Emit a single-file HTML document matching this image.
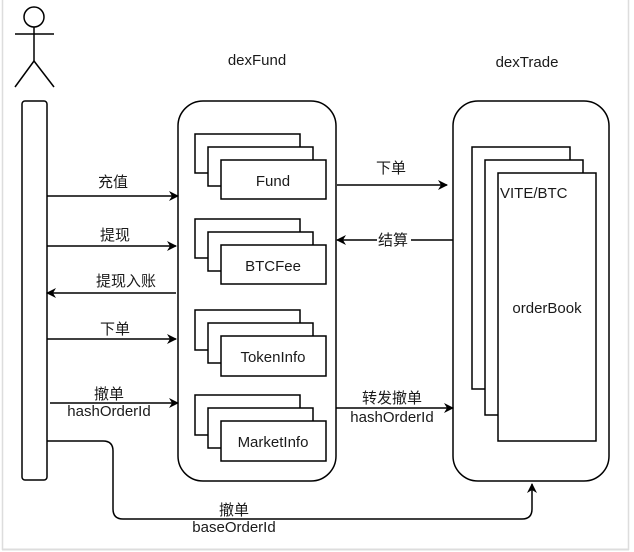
<!DOCTYPE html>
<html><head><meta charset="utf-8"><style>
html,body{margin:0;padding:0;background:#fff;}
svg{display:block;}
text{font-family:"Liberation Sans","Noto Sans CJK SC",sans-serif;font-size:15px;fill:#1a1a1a;}
</style></head><body>
<svg width="634" height="552" viewBox="0 0 634 552" xmlns="http://www.w3.org/2000/svg">
<defs>
<marker id="a" markerWidth="10" markerHeight="10" refX="9" refY="5" orient="auto" markerUnits="userSpaceOnUse">
<path d="M0,0 L10,5 L0,10 L3,5 Z" fill="#000"/>
</marker>
</defs>
<rect x="0" y="0" width="634" height="552" fill="#fff"/>
<line x1="2.5" y1="0" x2="2.5" y2="550" stroke="#ddd" stroke-width="1.5"/>
<line x1="628.5" y1="0" x2="628.5" y2="550" stroke="#ddd" stroke-width="1.5"/>
<line x1="2" y1="549.5" x2="629" y2="549.5" stroke="#ddd" stroke-width="2"/>
<g stroke="#000" stroke-width="1.5" fill="none">
<circle cx="34" cy="17" r="10"/>
<line x1="34" y1="27" x2="34" y2="61"/>
<line x1="15" y1="34" x2="54" y2="34"/>
<line x1="34" y1="61" x2="15" y2="87"/>
<line x1="34" y1="61" x2="54" y2="87"/>
<rect x="22" y="101" width="25" height="379" rx="3" fill="#fff"/>
<rect x="178" y="101" width="158" height="380" rx="25" fill="#fff"/>
<rect x="453" y="101" width="156" height="380" rx="25" fill="#fff"/>
</g>
<g stroke="#000" stroke-width="1.5" fill="#fff">
<rect x="195" y="134" width="105" height="39"/><rect x="208" y="147" width="105" height="39"/><rect x="221" y="160" width="105" height="39"/>
<rect x="195" y="219" width="105" height="39"/><rect x="208" y="232" width="105" height="39"/><rect x="221" y="245" width="105" height="39"/>
<rect x="195" y="310" width="105" height="40"/><rect x="208" y="323" width="105" height="40"/><rect x="221" y="336" width="105" height="40"/>
<rect x="195" y="395" width="105" height="40"/><rect x="208" y="408" width="105" height="40"/><rect x="221" y="421" width="105" height="40"/>
<rect x="472" y="147" width="98" height="242"/><rect x="485" y="160" width="98" height="255"/><rect x="498" y="173" width="98" height="268"/>
</g>
<text x="257" y="65" text-anchor="middle">dexFund</text>
<text x="527" y="67" text-anchor="middle">dexTrade</text>
<text x="273" y="186" text-anchor="middle">Fund</text>
<text x="273" y="271" text-anchor="middle">BTCFee</text>
<text x="273" y="362" text-anchor="middle">TokenInfo</text>
<text x="273" y="447" text-anchor="middle">MarketInfo</text>
<text x="500" y="198">VITE/BTC</text>
<text x="547" y="313" text-anchor="middle">orderBook</text>
<g stroke="#000" stroke-width="1.5" fill="none" marker-end="url(#a)">
<line x1="47" y1="196" x2="178" y2="196"/>
<line x1="47" y1="246" x2="176" y2="246"/>
<line x1="176" y1="293" x2="47" y2="293"/>
<line x1="47" y1="339" x2="176" y2="339"/>
<line x1="50" y1="403" x2="178" y2="403"/>
<line x1="337" y1="185" x2="447" y2="185"/>
<line x1="453" y1="240" x2="337" y2="240"/>
<line x1="336" y1="408" x2="453" y2="408"/>
<path d="M47,441 L103,441 Q113,441 113,451 L113,509 Q113,519 123,519 L522,519 Q532,519 532,509 L532,484"/>
</g>
<text x="113" y="187" text-anchor="middle">充值</text>
<text x="115" y="240" text-anchor="middle">提现</text>
<text x="126" y="286" text-anchor="middle">提现入账</text>
<text x="115" y="334" text-anchor="middle">下单</text>
<text x="109" y="399" text-anchor="middle">撤单</text>
<text x="109" y="416" text-anchor="middle">hashOrderId</text>
<text x="391" y="173" text-anchor="middle">下单</text>
<rect x="377" y="232" width="34" height="16" fill="#fff"/>
<text x="393" y="245" text-anchor="middle">结算</text>
<text x="392" y="403" text-anchor="middle">转发撤单</text>
<text x="392" y="422" text-anchor="middle">hashOrderId</text>
<text x="234" y="515" text-anchor="middle">撤单</text>
<text x="234" y="532" text-anchor="middle">baseOrderId</text>
</svg>
</body></html>
